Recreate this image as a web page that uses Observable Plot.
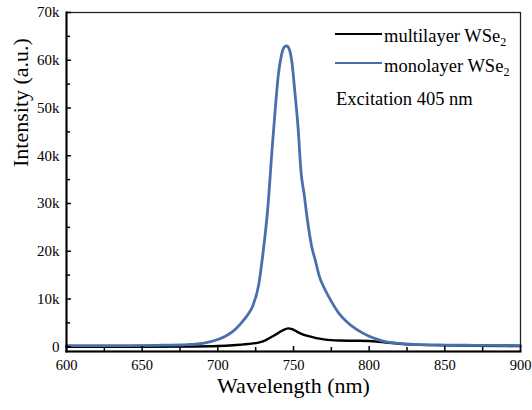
<!DOCTYPE html>
<html><head><meta charset="utf-8">
<script src="https://cdn.jsdelivr.net/npm/d3@7"></script>
<script src="https://cdn.jsdelivr.net/npm/@observablehq/plot@0.6"></script>
<style>
body{margin:0;background:#fff;}
#wrap{position:relative;width:532px;height:410px;font-family:'Liberation Serif','Times New Roman',serif;color:#000;}
.leg{position:absolute;font-size:18.5px;line-height:20px;white-space:nowrap;}
.sw{position:absolute;width:47px;}
sub{font-size:12px;vertical-align:-4px;line-height:0;}
</style></head><body><div id="wrap"></div>
<script>
// Data
const multiWl = [600,650,680,700,710,715,720,725,728,732,736,740,743,746.5,749,752,756,760,765,770,775,780,790,800,810,820,830,850,870,900];
const multiI  = [0,0,50,150,300,420,560,750,950,1450,2150,2900,3450,3850,3700,3200,2600,2200,1800,1550,1380,1300,1250,1200,900,620,450,300,200,150];
const monoWl = [600,620,640,660,680,690,700,705,710,715,720,723,727,730,733,736,738,740,742,744,745.5,747,749,751,753,755,757,759,762,764.5,767,770,775,780,785,790,795,800,805,810,820,830,850,870,900];
const monoI  = [250,250,250,300,450,700,1500,2200,3200,4800,6800,8500,13000,20000,29000,42000,50000,57000,61000,62800,63000,62500,59500,53000,46000,36500,32000,27000,21000,18000,14800,12500,9500,7000,5300,4000,3000,2200,1600,1100,700,500,350,300,250];
const seriesNames = ["multilayer WSe", "monolayer WSe"];
const seriesColors = ["#000000", "#4a6fae"];
const xTicks = [600,650,700,750,800,850,900];
const xMinor = [625,675,725,775,825,875];
const yTicks = [0,10000,20000,30000,40000,50000,60000,70000];
const yMinor = [5000,15000,25000,35000,45000,55000,65000];
const xLabel = "Wavelength (nm)";
const yLabel = "Intensity (a.u.)";
const note = "Excitation 405 nm";

const multi = multiWl.map((w,i)=>({wl:w, v:multiI[i]}));
const mono = monoWl.map((w,i)=>({wl:w, v:monoI[i]}));

const W=532,H=410,mL=66,mR=12,mT=12,mB=59;
const innerW=W-mL-mR, innerH=H-mT-mB;

const chart = Plot.plot({
  width:W, height:H, marginLeft:mL, marginRight:mR, marginTop:mT, marginBottom:mB,
  style:{fontFamily:"Liberation Serif", background:"white", color:"#000"},
  x:{domain:[600,900]},
  y:{domain:[-1000,70000]},
  marks:[
    Plot.line(multi,{x:"wl",y:"v",stroke:seriesColors[0],strokeWidth:2.4,curve:"monotone-x"}),
    Plot.line(mono,{x:"wl",y:"v",stroke:seriesColors[1],strokeWidth:2.8,curve:"monotone-x"}),
    Plot.frame({stroke:"#222",strokeWidth:1.3}),
    Plot.frame({anchor:"bottom",stroke:"#000",strokeWidth:2}),
    Plot.frame({anchor:"left",stroke:"#000",strokeWidth:2}),
    Plot.tickX(xTicks,{x:d=>d,insetTop:innerH-5,strokeWidth:1.5}),
    Plot.tickX(xMinor,{x:d=>d,insetTop:innerH-4,strokeWidth:1.5}),
    Plot.tickY(yTicks,{y:d=>d,insetRight:innerW-5,strokeWidth:1.5}),
    Plot.tickY(yMinor,{y:d=>d,insetRight:innerW-4,strokeWidth:1.5}),
    Plot.axisX({ticks:xTicks,tickSize:0,tickPadding:8,fontSize:14.5,label:null}),
    Plot.axisY({ticks:yTicks,tickSize:0,tickPadding:7,fontSize:15,label:null,tickFormat:d=>d===0?"0":(d/1000)+"k"}),
    Plot.text([xLabel],{frameAnchor:"bottom",dy:41,fontSize:22,text:d=>d}),
    Plot.text([yLabel],{frameAnchor:"left",rotate:-90,dx:-46,dy:-15,fontSize:22,text:d=>d})
  ]
});
const wrap=document.getElementById("wrap");
wrap.appendChild(chart);

const legTops=[26,55.5];
const lineCenters=[34,63.3];
seriesNames.forEach((n,i)=>{
  const sw=document.createElement("div");
  sw.className="sw";
  const lw = i===0?2.4:2.8;
  sw.style.left="335px";
  sw.style.top=(lineCenters[i]-lw/2)+"px";
  sw.style.borderTop=lw+"px solid "+seriesColors[i];
  wrap.appendChild(sw);
  const t=document.createElement("div");
  t.className="leg";
  t.style.left="384px"; t.style.top=legTops[i]+"px";
  t.innerHTML=n+"<sub>2</sub>";
  wrap.appendChild(t);
});
const ex=document.createElement("div");
ex.className="leg"; ex.style.left="336px"; ex.style.top="89px";
ex.textContent=note;
wrap.appendChild(ex);
</script></body></html>
